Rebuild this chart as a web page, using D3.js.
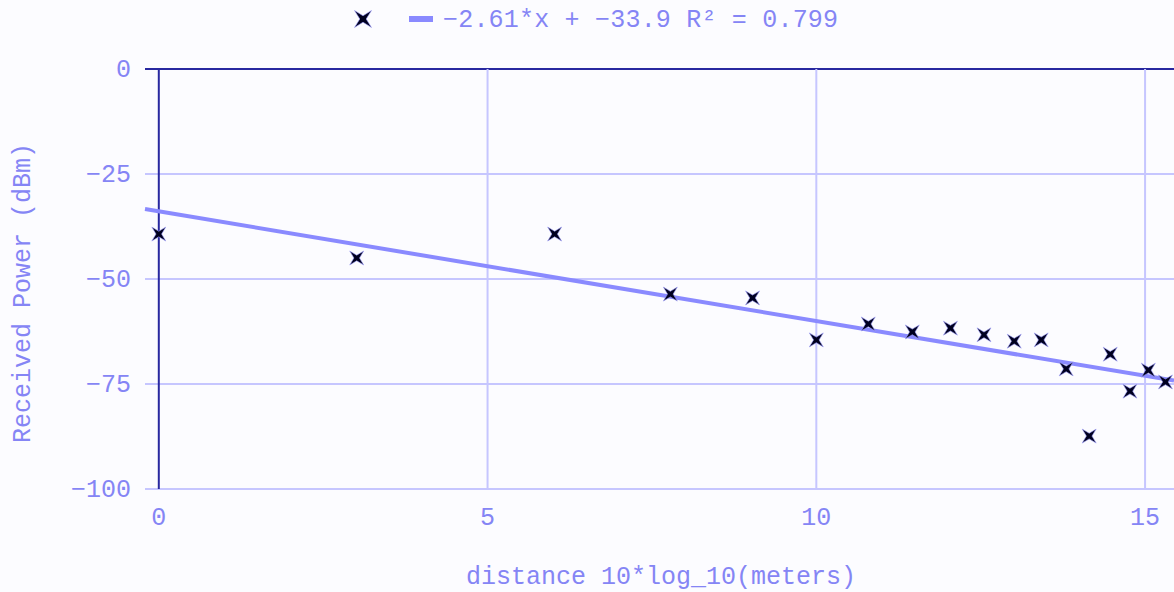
<!DOCTYPE html>
<html lang="en">
<head>
<meta charset="utf-8">
<title>Received Power vs distance</title>
<script src="https://d3js.org/d3.v7.min.js"></script>
<style>
  body { margin: 0; background: #fcfcff; }
  svg { display: block; font-family: "Liberation Mono", "Courier New", monospace; }
</style>
</head>
<body>
<svg width="1174" height="592"></svg>
<script>
// data: distance in 10*log10(meters), received power in dBm
const distances = [0, 3.01, 6.02, 7.78, 9.03, 10, 10.79, 11.46, 12.04, 12.55, 13.01, 13.42, 13.8, 14.15, 14.47, 14.77, 15.05, 15.31];
const powers = [-39.3, -45.0, -39.3, -53.6, -54.5, -64.5, -60.7, -62.6, -61.7, -63.3, -64.8, -64.5, -71.4, -87.4, -67.9, -76.7, -71.7, -74.5];
const slope = -2.61, intercept = -33.9, r2 = 0.799;
const xTicks = [0, 5, 10, 15];
const yTicks = [0, -25, -50, -75, -100];

const svg = d3.select("svg");
const textColor = "#8585f5";
const gridColor = "#c6c6ff";
const zeroColor = "#2828a0";
const fontSize = 25;

const plotLeft = 145, plotRight = 1174, plotTop = 69, plotBottom = 489;
const x = d3.scaleLinear().domain([-0.21, 15.44]).range([plotLeft, plotRight]);
const y = d3.scaleLinear().domain([-100, 0]).range([plotBottom, plotTop]);

// horizontal gridlines
svg.append("g").selectAll("line").data(yTicks).join("line")
  .attr("x1", plotLeft).attr("x2", plotRight)
  .attr("y1", d => y(d)).attr("y2", d => y(d))
  .attr("stroke", d => d === 0 ? zeroColor : gridColor)
  .attr("stroke-width", 2);

// vertical gridlines
svg.append("g").selectAll("line").data(xTicks).join("line")
  .attr("x1", d => x(d)).attr("x2", d => x(d))
  .attr("y1", plotTop).attr("y2", plotBottom)
  .attr("stroke", d => d === 0 ? zeroColor : gridColor)
  .attr("stroke-width", 2);

// tick labels
svg.append("g").selectAll("text").data(yTicks).join("text")
  .attr("x", 131).attr("y", d => y(d) + 8)
  .attr("text-anchor", "end")
  .attr("fill", textColor).attr("font-size", fontSize)
  .text(d => String(d).replace("-", "\u2212"));

svg.append("g").selectAll("text").data(xTicks).join("text")
  .attr("x", d => x(d)).attr("y", 525)
  .attr("text-anchor", "middle")
  .attr("fill", textColor).attr("font-size", fontSize)
  .text(d => d);

// axis titles
svg.append("text")
  .attr("x", 661).attr("y", 584)
  .attr("text-anchor", "middle")
  .attr("fill", textColor).attr("font-size", fontSize)
  .text("distance 10*log_10(meters)");

svg.append("text")
  .attr("transform", "translate(30,293) rotate(-90)")
  .attr("text-anchor", "middle")
  .attr("fill", textColor).attr("font-size", fontSize)
  .text("Received Power (dBm)");

// regression line
const xd = x.domain();
svg.append("line")
  .attr("x1", x(xd[0])).attr("y1", y(slope * xd[0] + intercept))
  .attr("x2", x(xd[1])).attr("y2", y(slope * xd[1] + intercept))
  .attr("stroke", "#8a8aff").attr("stroke-width", 4);

// four pointed star marker
function star(s, w) {
  return `M${-s},${-s}L0,${-w}L${s},${-s}L${w},0L${s},${s}L0,${w}L${-s},${s}L${-w},0Z`;
}

svg.append("g").selectAll("path").data(distances).join("path")
  .attr("transform", (d, i) => `translate(${x(d)},${y(powers[i])})`)
  .attr("d", star(7, 2.8))
  .attr("fill", "#000020")
  .attr("stroke", "#a0a0ff").attr("stroke-width", 0.6);

// legend
const lg = svg.append("g");
lg.append("path")
  .attr("transform", "translate(363,19)")
  .attr("d", star(8.5, 3.2))
  .attr("fill", "#000020")
  .attr("stroke", "#a0a0ff").attr("stroke-width", 0.6);
lg.append("rect")
  .attr("x", 409).attr("y", 16).attr("width", 24).attr("height", 6)
  .attr("fill", "#8a8aff");
lg.append("text")
  .attr("x", 443).attr("y", 27)
  .attr("fill", textColor).attr("font-size", fontSize)
  .attr("letter-spacing", 0.2)
  .text(`\u2212${Math.abs(slope)}*x + \u2212${Math.abs(intercept)} R\u00b2 = ${r2}`);
</script>
</body>
</html>
